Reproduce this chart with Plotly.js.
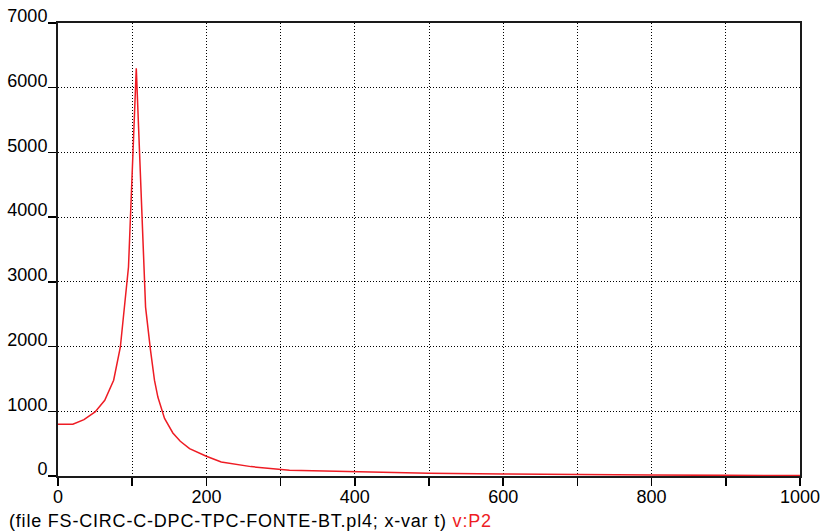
<!DOCTYPE html>
<html>
<head>
<meta charset="utf-8">
<script src="https://cdn.plot.ly/plotly-3.0.1.min.js"></script>
<style>
html,body{margin:0;padding:0;background:#fff;}
#chart{width:823px;height:532px;}
#chart .annotation-text{letter-spacing:0.8px;}
</style>
</head>
<body>
<div id="chart"></div>
<script>
// time (x-var t)
var tValues = [0, 20, 35, 50, 63, 75, 84, 92, 95, 105.5, 118, 124.7, 130, 134.6, 143.6, 154.8, 164.8, 177.3, 199.9, 220, 260, 312, 400, 500, 600, 700, 800, 900, 1000];
// v:P2
var p2Values = [800, 800, 870, 990, 1170, 1480, 1990, 2820, 3230, 6300, 2610, 1940, 1480, 1220, 890, 665, 537, 424, 305, 216, 145, 88, 62, 42, 31, 18, 14, 10, 6];

var xTickVals = [0, 100, 200, 300, 400, 500, 600, 700, 800, 900, 1000];
var xTickText = ['0', '', '200', '', '400', '', '600', '', '800', '', '1000'];
var yTickVals = [0, 1000, 2000, 3000, 4000, 5000, 6000, 7000];
var yTickText = ['0', '1000', '2000', '3000', '4000', '5000', '6000', '7000'];

var captionFile = '(file FS-CIRC-C-DPC-TPC-FONTE-BT.pl4; x-var t)';
var captionVar = 'v:P2';

var font = 'Arial, "Liberation Sans", sans-serif';

var trace = {
  x: tValues,
  y: p2Values,
  type: 'scatter',
  mode: 'lines',
  line: {color: '#ee1c24', width: 1.5},
  hoverinfo: 'skip'
};

var axisCommon = {
  showline: true,
  mirror: true,
  linecolor: '#1a1a1a',
  linewidth: 2,
  ticks: 'outside',
  ticklen: 8,
  tickwidth: 1.5,
  tickcolor: '#000',
  showgrid: true,
  gridcolor: '#000',
  gridwidth: 1,
  griddash: '1px,2px',
  zeroline: false,
  tickfont: {family: font, size: 18, color: '#000'}
};

var layout = {
  width: 823,
  height: 532,
  margin: {l: 58, r: 23, t: 23, b: 56, pad: 0},
  paper_bgcolor: '#fff',
  plot_bgcolor: '#fff',
  showlegend: false,
  font: {family: font, color: '#000'},
  xaxis: Object.assign({}, axisCommon, {
    range: [0, 1000],
    tickmode: 'array',
    tickvals: xTickVals,
    ticktext: xTickText,
    ticklabelstandoff: -5
  }),
  yaxis: Object.assign({}, axisCommon, {
    range: [0, 7000],
    tickmode: 'array',
    tickvals: yTickVals,
    ticktext: yTickText,
    ticklabelshift: -7,
    ticklabelstandoff: -3
  }),
  annotations: [{
    xref: 'paper', yref: 'paper',
    x: -0.0694, y: -0.1,
    xanchor: 'left', yanchor: 'middle',
    showarrow: false,
    align: 'left',
    text: captionFile + ' <span style="color:#ee1c24">' + captionVar + '</span>',
    font: {family: font, size: 18, color: '#000'}
  }]
};

Plotly.newPlot('chart', [trace], layout, {displayModeBar: false, staticPlot: true});
</script>
</body>
</html>
